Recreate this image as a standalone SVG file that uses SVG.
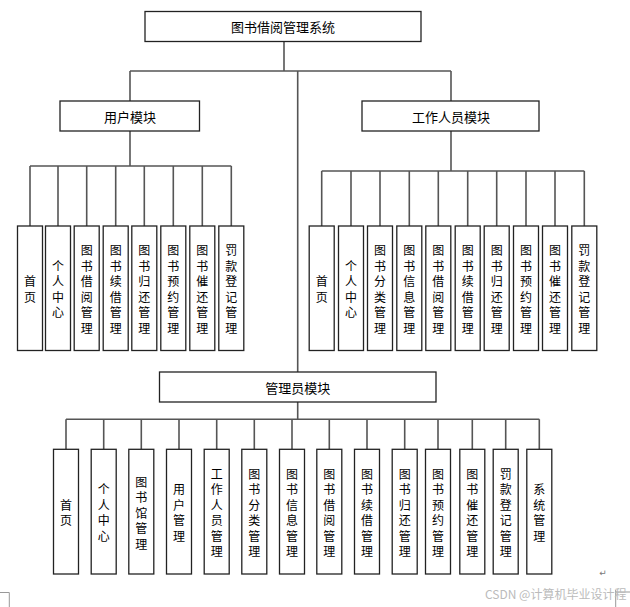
<svg xmlns="http://www.w3.org/2000/svg" width="630" height="607" viewBox="0 0 630 607">
<style>
.bg{fill:#fff}
.box{fill:#fff;stroke:#222;stroke-width:1.3}
.ln{stroke:#555;stroke-width:1.6;fill:none}
.t{font-family:"Noto Sans CJK SC","Noto Sans",sans-serif;font-size:13px;fill:#000;text-anchor:middle;dominant-baseline:central}
.v{font-family:"Noto Sans CJK SC","Noto Sans",sans-serif;font-size:12px;fill:#000;text-anchor:middle;dominant-baseline:central}
.mark{stroke:#999;stroke-width:1;fill:none}
.wm{font-family:"Noto Sans CJK SC","Noto Sans",sans-serif;font-size:12px;fill:#bbb}
</style>
<rect class="bg" width="630" height="607"/>
<g id="connectors">
<path class="ln" d="M284 41V71M130 71H451M130 71V101M451 71V101M297.7 71V372"/>
<path class="ln" d="M130 131V166M30 166H231.3M30 166V226M58 166V226M86.7 166V226M115.7 166V226M144.3 166V226M173.3 166V226M202.3 166V226M231.3 166V226"/>
<path class="ln" d="M451 131V171M321.7 171H584.3M321.7 171V226M351 171V226M380 171V226M409.3 171V226M438.3 171V226M467.7 171V226M496.7 171V226M526 171V226M555 171V226M584.3 171V226"/>
<path class="ln" d="M297.7 402V419.3M66 419.3H539.3M66 419.3V449M103.7 419.3V449M141.3 419.3V449M179 419.3V449M216.7 419.3V449M254.3 419.3V449M292 419.3V449M329.3 419.3V449M367 419.3V449M404.7 419.3V449M438 419.3V449M472.3 419.3V449M505.7 419.3V449M539.3 419.3V449"/>
</g>
<g id="root"><rect class="box" x="145" y="11.5" width="276" height="30"/><text class="t" x="283" y="26.5">图书借阅管理系统</text></g>
<g id="user"><rect class="box" x="60" y="101" width="139.5" height="30"/><text class="t" x="130" y="116">用户模块</text></g>
<g id="staff"><rect class="box" x="362" y="101" width="177" height="30"/><text class="t" x="451" y="116">工作人员模块</text></g>
<g id="admin"><rect class="box" x="159.5" y="372" width="276.5" height="30"/><text class="t" x="297.7" y="387">管理员模块</text></g>

<g id="u1"><rect class="box" x="17.5" y="226" width="25" height="124.5"/><text class="v" x="30" y="280.25"><tspan x="30">首</tspan><tspan x="30" dy="15.5">页</tspan></text></g>
<g id="u2"><rect class="box" x="45.5" y="226" width="25" height="124.5"/><text class="v" x="58" y="264.75"><tspan x="58">个</tspan><tspan x="58" dy="15.5">人</tspan><tspan x="58" dy="15.5">中</tspan><tspan x="58" dy="15.5">心</tspan></text></g>
<g id="u3"><rect class="box" x="74.2" y="226" width="25" height="124.5"/><text class="v" x="86.7" y="249.25"><tspan x="86.7">图</tspan><tspan x="86.7" dy="15.5">书</tspan><tspan x="86.7" dy="15.5">借</tspan><tspan x="86.7" dy="15.5">阅</tspan><tspan x="86.7" dy="15.5">管</tspan><tspan x="86.7" dy="15.5">理</tspan></text></g>
<g id="u4"><rect class="box" x="103.2" y="226" width="25" height="124.5"/><text class="v" x="115.7" y="249.25"><tspan x="115.7">图</tspan><tspan x="115.7" dy="15.5">书</tspan><tspan x="115.7" dy="15.5">续</tspan><tspan x="115.7" dy="15.5">借</tspan><tspan x="115.7" dy="15.5">管</tspan><tspan x="115.7" dy="15.5">理</tspan></text></g>
<g id="u5"><rect class="box" x="131.8" y="226" width="25" height="124.5"/><text class="v" x="144.3" y="249.25"><tspan x="144.3">图</tspan><tspan x="144.3" dy="15.5">书</tspan><tspan x="144.3" dy="15.5">归</tspan><tspan x="144.3" dy="15.5">还</tspan><tspan x="144.3" dy="15.5">管</tspan><tspan x="144.3" dy="15.5">理</tspan></text></g>
<g id="u6"><rect class="box" x="160.8" y="226" width="25" height="124.5"/><text class="v" x="173.3" y="249.25"><tspan x="173.3">图</tspan><tspan x="173.3" dy="15.5">书</tspan><tspan x="173.3" dy="15.5">预</tspan><tspan x="173.3" dy="15.5">约</tspan><tspan x="173.3" dy="15.5">管</tspan><tspan x="173.3" dy="15.5">理</tspan></text></g>
<g id="u7"><rect class="box" x="189.8" y="226" width="25" height="124.5"/><text class="v" x="202.3" y="249.25"><tspan x="202.3">图</tspan><tspan x="202.3" dy="15.5">书</tspan><tspan x="202.3" dy="15.5">催</tspan><tspan x="202.3" dy="15.5">还</tspan><tspan x="202.3" dy="15.5">管</tspan><tspan x="202.3" dy="15.5">理</tspan></text></g>
<g id="u8"><rect class="box" x="218.8" y="226" width="25" height="124.5"/><text class="v" x="231.3" y="249.25"><tspan x="231.3">罚</tspan><tspan x="231.3" dy="15.5">款</tspan><tspan x="231.3" dy="15.5">登</tspan><tspan x="231.3" dy="15.5">记</tspan><tspan x="231.3" dy="15.5">管</tspan><tspan x="231.3" dy="15.5">理</tspan></text></g>

<g id="s1"><rect class="box" x="309.2" y="226" width="25" height="124.5"/><text class="v" x="321.7" y="280.25"><tspan x="321.7">首</tspan><tspan x="321.7" dy="15.5">页</tspan></text></g>
<g id="s2"><rect class="box" x="338.5" y="226" width="25" height="124.5"/><text class="v" x="351" y="264.75"><tspan x="351">个</tspan><tspan x="351" dy="15.5">人</tspan><tspan x="351" dy="15.5">中</tspan><tspan x="351" dy="15.5">心</tspan></text></g>
<g id="s3"><rect class="box" x="367.5" y="226" width="25" height="124.5"/><text class="v" x="380" y="249.25"><tspan x="380">图</tspan><tspan x="380" dy="15.5">书</tspan><tspan x="380" dy="15.5">分</tspan><tspan x="380" dy="15.5">类</tspan><tspan x="380" dy="15.5">管</tspan><tspan x="380" dy="15.5">理</tspan></text></g>
<g id="s4"><rect class="box" x="396.8" y="226" width="25" height="124.5"/><text class="v" x="409.3" y="249.25"><tspan x="409.3">图</tspan><tspan x="409.3" dy="15.5">书</tspan><tspan x="409.3" dy="15.5">信</tspan><tspan x="409.3" dy="15.5">息</tspan><tspan x="409.3" dy="15.5">管</tspan><tspan x="409.3" dy="15.5">理</tspan></text></g>
<g id="s5"><rect class="box" x="425.8" y="226" width="25" height="124.5"/><text class="v" x="438.3" y="249.25"><tspan x="438.3">图</tspan><tspan x="438.3" dy="15.5">书</tspan><tspan x="438.3" dy="15.5">借</tspan><tspan x="438.3" dy="15.5">阅</tspan><tspan x="438.3" dy="15.5">管</tspan><tspan x="438.3" dy="15.5">理</tspan></text></g>
<g id="s6"><rect class="box" x="455.2" y="226" width="25" height="124.5"/><text class="v" x="467.7" y="249.25"><tspan x="467.7">图</tspan><tspan x="467.7" dy="15.5">书</tspan><tspan x="467.7" dy="15.5">续</tspan><tspan x="467.7" dy="15.5">借</tspan><tspan x="467.7" dy="15.5">管</tspan><tspan x="467.7" dy="15.5">理</tspan></text></g>
<g id="s7"><rect class="box" x="484.2" y="226" width="25" height="124.5"/><text class="v" x="496.7" y="249.25"><tspan x="496.7">图</tspan><tspan x="496.7" dy="15.5">书</tspan><tspan x="496.7" dy="15.5">归</tspan><tspan x="496.7" dy="15.5">还</tspan><tspan x="496.7" dy="15.5">管</tspan><tspan x="496.7" dy="15.5">理</tspan></text></g>
<g id="s8"><rect class="box" x="513.5" y="226" width="25" height="124.5"/><text class="v" x="526" y="249.25"><tspan x="526">图</tspan><tspan x="526" dy="15.5">书</tspan><tspan x="526" dy="15.5">预</tspan><tspan x="526" dy="15.5">约</tspan><tspan x="526" dy="15.5">管</tspan><tspan x="526" dy="15.5">理</tspan></text></g>
<g id="s9"><rect class="box" x="542.5" y="226" width="25" height="124.5"/><text class="v" x="555" y="249.25"><tspan x="555">图</tspan><tspan x="555" dy="15.5">书</tspan><tspan x="555" dy="15.5">催</tspan><tspan x="555" dy="15.5">还</tspan><tspan x="555" dy="15.5">管</tspan><tspan x="555" dy="15.5">理</tspan></text></g>
<g id="s10"><rect class="box" x="571.8" y="226" width="25" height="124.5"/><text class="v" x="584.3" y="249.25"><tspan x="584.3">罚</tspan><tspan x="584.3" dy="15.5">款</tspan><tspan x="584.3" dy="15.5">登</tspan><tspan x="584.3" dy="15.5">记</tspan><tspan x="584.3" dy="15.5">管</tspan><tspan x="584.3" dy="15.5">理</tspan></text></g>

<g id="a1"><rect class="box" x="53.5" y="449.3" width="25" height="124.7"/><text class="v" x="66" y="503.9"><tspan x="66">首</tspan><tspan x="66" dy="15.5">页</tspan></text></g>
<g id="a2"><rect class="box" x="91.2" y="449.3" width="25" height="124.7"/><text class="v" x="103.7" y="488.4"><tspan x="103.7">个</tspan><tspan x="103.7" dy="15.5">人</tspan><tspan x="103.7" dy="15.5">中</tspan><tspan x="103.7" dy="15.5">心</tspan></text></g>
<g id="a3"><rect class="box" x="128.8" y="449.3" width="25" height="124.7"/><text class="v" x="141.3" y="480.6"><tspan x="141.3">图</tspan><tspan x="141.3" dy="15.5">书</tspan><tspan x="141.3" dy="15.5">馆</tspan><tspan x="141.3" dy="15.5">管</tspan><tspan x="141.3" dy="15.5">理</tspan></text></g>
<g id="a4"><rect class="box" x="166.5" y="449.3" width="25" height="124.7"/><text class="v" x="179" y="488.4"><tspan x="179">用</tspan><tspan x="179" dy="15.5">户</tspan><tspan x="179" dy="15.5">管</tspan><tspan x="179" dy="15.5">理</tspan></text></g>
<g id="a5"><rect class="box" x="204.2" y="449.3" width="25" height="124.7"/><text class="v" x="216.7" y="472.9"><tspan x="216.7">工</tspan><tspan x="216.7" dy="15.5">作</tspan><tspan x="216.7" dy="15.5">人</tspan><tspan x="216.7" dy="15.5">员</tspan><tspan x="216.7" dy="15.5">管</tspan><tspan x="216.7" dy="15.5">理</tspan></text></g>
<g id="a6"><rect class="box" x="241.8" y="449.3" width="25" height="124.7"/><text class="v" x="254.3" y="472.9"><tspan x="254.3">图</tspan><tspan x="254.3" dy="15.5">书</tspan><tspan x="254.3" dy="15.5">分</tspan><tspan x="254.3" dy="15.5">类</tspan><tspan x="254.3" dy="15.5">管</tspan><tspan x="254.3" dy="15.5">理</tspan></text></g>
<g id="a7"><rect class="box" x="279.5" y="449.3" width="25" height="124.7"/><text class="v" x="292" y="472.9"><tspan x="292">图</tspan><tspan x="292" dy="15.5">书</tspan><tspan x="292" dy="15.5">信</tspan><tspan x="292" dy="15.5">息</tspan><tspan x="292" dy="15.5">管</tspan><tspan x="292" dy="15.5">理</tspan></text></g>
<g id="a8"><rect class="box" x="316.8" y="449.3" width="25" height="124.7"/><text class="v" x="329.3" y="472.9"><tspan x="329.3">图</tspan><tspan x="329.3" dy="15.5">书</tspan><tspan x="329.3" dy="15.5">借</tspan><tspan x="329.3" dy="15.5">阅</tspan><tspan x="329.3" dy="15.5">管</tspan><tspan x="329.3" dy="15.5">理</tspan></text></g>
<g id="a9"><rect class="box" x="354.5" y="449.3" width="25" height="124.7"/><text class="v" x="367" y="472.9"><tspan x="367">图</tspan><tspan x="367" dy="15.5">书</tspan><tspan x="367" dy="15.5">续</tspan><tspan x="367" dy="15.5">借</tspan><tspan x="367" dy="15.5">管</tspan><tspan x="367" dy="15.5">理</tspan></text></g>
<g id="a10"><rect class="box" x="392.2" y="449.3" width="25" height="124.7"/><text class="v" x="404.7" y="472.9"><tspan x="404.7">图</tspan><tspan x="404.7" dy="15.5">书</tspan><tspan x="404.7" dy="15.5">归</tspan><tspan x="404.7" dy="15.5">还</tspan><tspan x="404.7" dy="15.5">管</tspan><tspan x="404.7" dy="15.5">理</tspan></text></g>
<g id="a11"><rect class="box" x="425.5" y="449.3" width="25" height="124.7"/><text class="v" x="438" y="472.9"><tspan x="438">图</tspan><tspan x="438" dy="15.5">书</tspan><tspan x="438" dy="15.5">预</tspan><tspan x="438" dy="15.5">约</tspan><tspan x="438" dy="15.5">管</tspan><tspan x="438" dy="15.5">理</tspan></text></g>
<g id="a12"><rect class="box" x="459.8" y="449.3" width="25" height="124.7"/><text class="v" x="472.3" y="472.9"><tspan x="472.3">图</tspan><tspan x="472.3" dy="15.5">书</tspan><tspan x="472.3" dy="15.5">催</tspan><tspan x="472.3" dy="15.5">还</tspan><tspan x="472.3" dy="15.5">管</tspan><tspan x="472.3" dy="15.5">理</tspan></text></g>
<g id="a13"><rect class="box" x="493.2" y="449.3" width="25" height="124.7"/><text class="v" x="505.7" y="472.9"><tspan x="505.7">罚</tspan><tspan x="505.7" dy="15.5">款</tspan><tspan x="505.7" dy="15.5">登</tspan><tspan x="505.7" dy="15.5">记</tspan><tspan x="505.7" dy="15.5">管</tspan><tspan x="505.7" dy="15.5">理</tspan></text></g>
<g id="a14"><rect class="box" x="526.8" y="449.3" width="25" height="124.7"/><text class="v" x="539.3" y="488.4"><tspan x="539.3">系</tspan><tspan x="539.3" dy="15.5">统</tspan><tspan x="539.3" dy="15.5">管</tspan><tspan x="539.3" dy="15.5">理</tspan></text></g>

<g id="page-marks">
<path class="mark" d="M0 592.5H9.3V607M615.7 590V607M615.7 592H630"/>
<text x="603" y="576" style="font-family:'DejaVu Sans',sans-serif;font-size:9px;fill:#777" text-anchor="middle">↵</text>
<text class="wm" x="485" y="599">CSDN @计算机毕业设计程</text>
</g>
</svg>
